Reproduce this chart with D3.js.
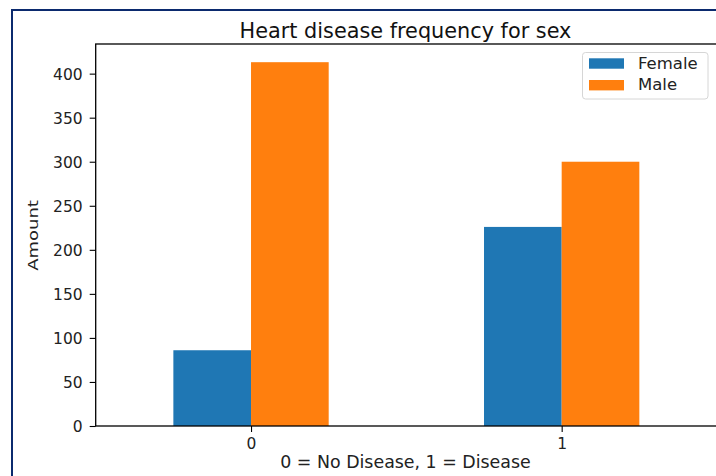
<!DOCTYPE html>
<html>
<head>
<meta charset="utf-8">
<script src="https://cdn.jsdelivr.net/npm/d3@7"></script>
<style>
  html, body { margin: 0; padding: 0; background: #fff; }
  svg { display: block; font-family: "DejaVu Sans", sans-serif; }
</style>
</head>
<body>
<svg id="chart" width="716" height="476"></svg>
<script>
const categories = [0, 1];
const tickLabels = ["0", "1"];
const seriesNames = ["Female", "Male"];
const female = [86, 226];
const male = [413, 300];
const yTicks = [0, 50, 100, 150, 200, 250, 300, 350, 400];
const colors = ["#1f77b4", "#ff7f0e"];
const title = "Heart disease frequency for sex";
const xLabel = "0 = No Disease, 1 = Disease";
const yLabel = "Amount";

(function () {
const svg = d3.select("#chart");
svg.append("rect").attr("width", 716).attr("height", 476).attr("fill", "#fff");

// outer frame
svg.append("rect")
  .attr("x", 12).attr("y", 10).attr("width", 740).attr("height", 500)
  .attr("fill", "none").attr("stroke", "#0b2a6e").attr("stroke-width", 2);

const pLeft = 95.7, pRight = 717, pTop = 44, pBottom = 426;
const x = d3.scaleLinear().domain([-0.5, 1.5]).range([pLeft, pRight]);
const yMax = d3.max(female.concat(male)) * 1.05;
const y = d3.scaleLinear().domain([0, yMax]).range([pBottom, pTop]);

const series = [female, male];
const barW = 0.25;
series.forEach((vals, s) => {
  svg.append("g").selectAll("rect")
    .data(categories)
    .join("rect")
    .attr("x", d => x(d - barW + s * barW))
    .attr("width", d => x(d + s * barW) - x(d - barW + s * barW))
    .attr("y", (d, i) => y(vals[i]))
    .attr("height", (d, i) => y(0) - y(vals[i]))
    .attr("fill", colors[s]);
});

// axes
const yAxis = d3.axisLeft(y).tickValues(yTicks).tickSize(6).tickPadding(7).tickFormat(d3.format("d"));
const gy = svg.append("g").attr("transform", `translate(${pLeft},0)`).call(yAxis)
  .attr("font-family", "DejaVu Sans").attr("font-size", 15.5);
gy.select(".domain").remove();
gy.selectAll(".tick line").attr("stroke", "#000").attr("stroke-width", 1.1);
gy.selectAll(".tick text").attr("fill", "#222").attr("dy", "0.36em");

const xAxis = d3.axisBottom(x).tickValues(categories).tickSize(6).tickPadding(5)
  .tickFormat((d, i) => tickLabels[i]);
const gx = svg.append("g").attr("transform", `translate(0,${pBottom})`).call(xAxis)
  .attr("font-family", "DejaVu Sans").attr("font-size", 15.5);
gx.select(".domain").remove();
gx.selectAll(".tick line").attr("stroke", "#000").attr("stroke-width", 1.1);
gx.selectAll(".tick text").attr("fill", "#222").attr("dy", "0.78em");

// spines
svg.append("rect")
  .attr("x", pLeft).attr("y", pTop).attr("width", pRight - pLeft).attr("height", pBottom - pTop)
  .attr("fill", "none").attr("stroke", "#000").attr("stroke-width", 1.3);

// title
svg.append("text").attr("x", 405.5).attr("y", 37.5).attr("text-anchor", "middle")
  .style("font-size", "20.8px").attr("fill", "#111").text(title);

// x label
svg.append("text").attr("x", 405.5).attr("y", 467.5).attr("text-anchor", "middle")
  .style("font-size", "17.4px").attr("fill", "#222").text(xLabel);

// y label
svg.append("text")
  .attr("transform", "translate(37.5,235.5) rotate(-90) scale(1.2,0.9)")
  .attr("text-anchor", "middle")
  .style("font-size", "15px").attr("fill", "#222").text(yLabel);

// legend
const lg = svg.append("g");
lg.append("rect").attr("x", 582.5).attr("y", 52.5).attr("width", 125.5).attr("height", 46.5)
  .attr("rx", 3).attr("fill", "#fff").attr("fill-opacity", 0.85)
  .attr("stroke", "#d6d6d6").attr("stroke-width", 1);
seriesNames.forEach((name, i) => {
  const yy = 58.3 + i * 21.7;
  lg.append("rect").attr("x", 589).attr("y", yy).attr("width", 35).attr("height", 10.4)
    .attr("fill", colors[i]);
  lg.append("text").attr("x", 638).attr("y", yy + 10.3)
    .style("font-size", "16.5px").attr("fill", "#222").text(name);
});
})();
</script>
</body>
</html>
